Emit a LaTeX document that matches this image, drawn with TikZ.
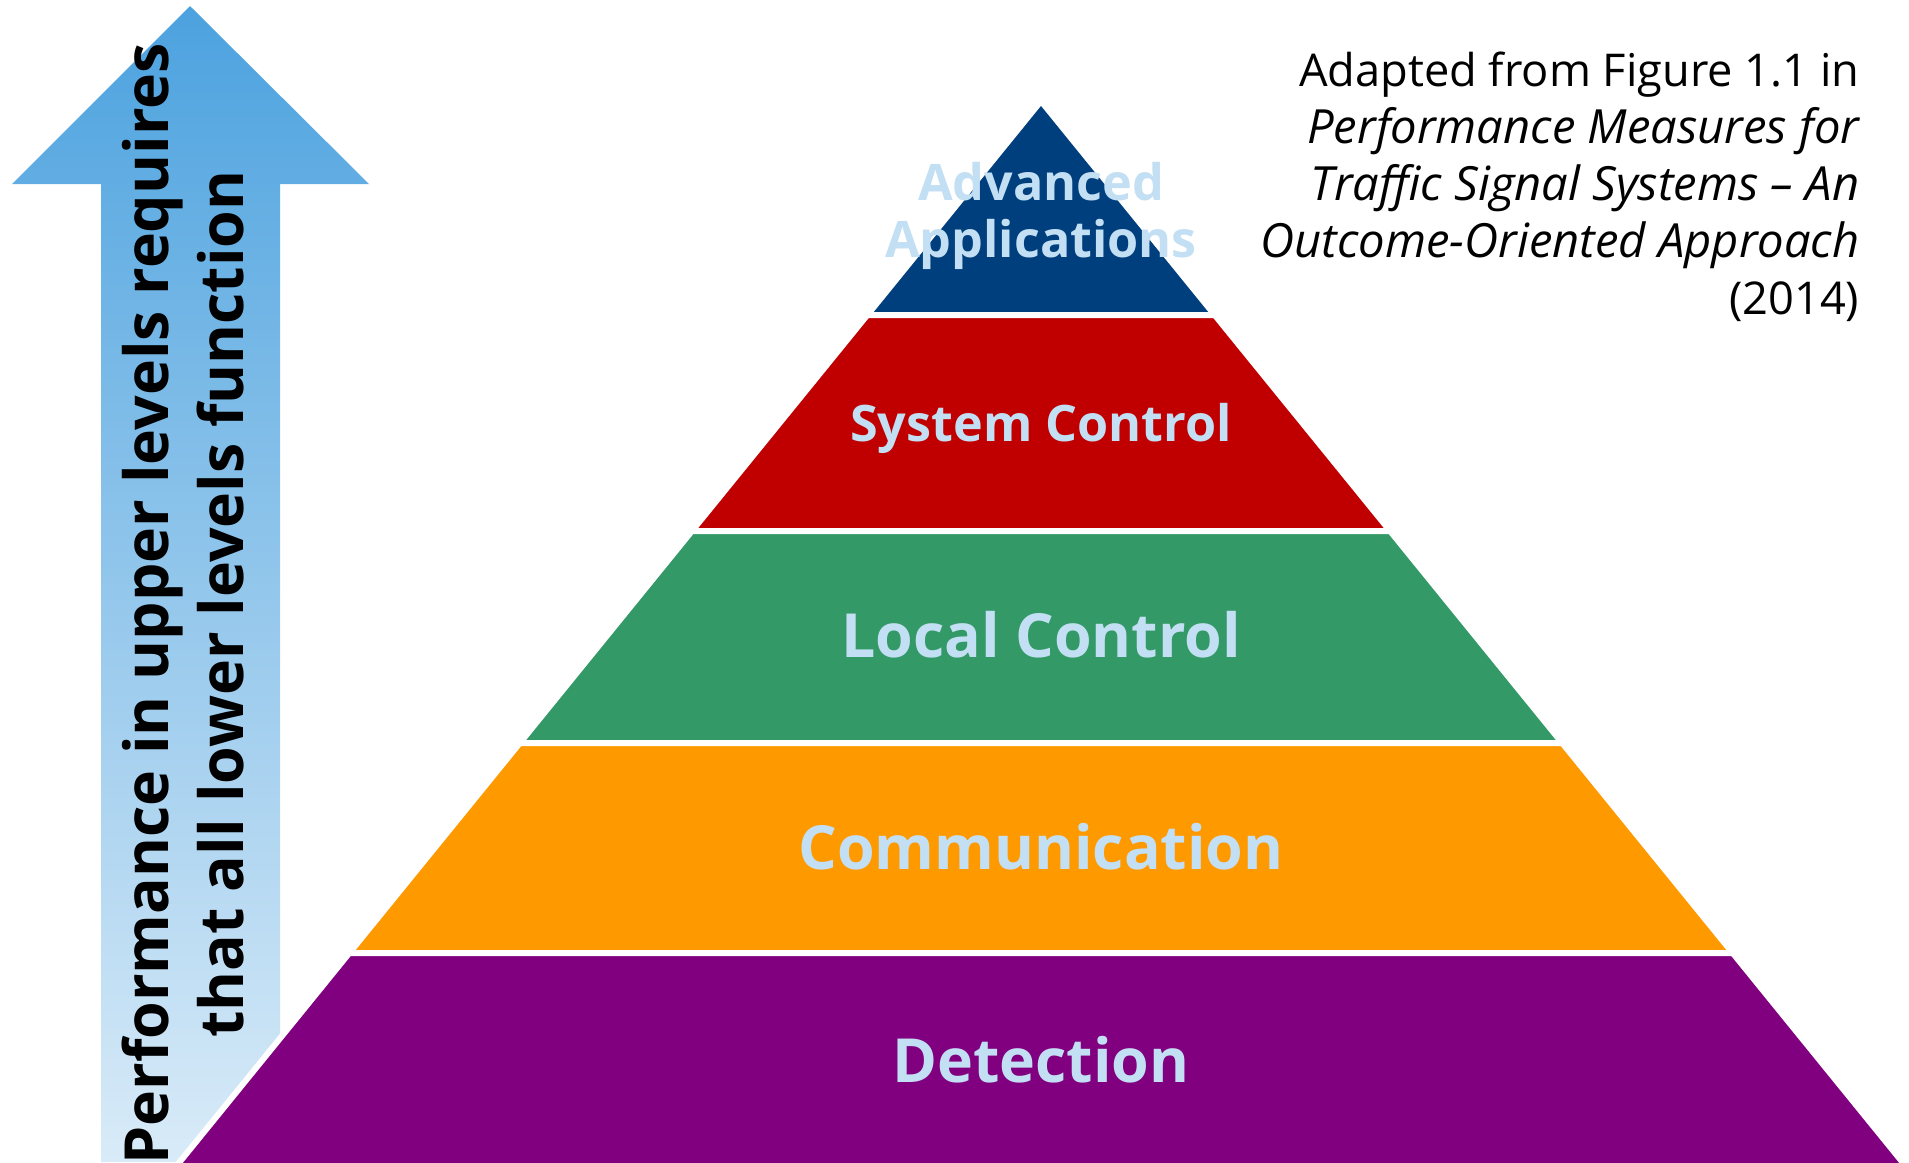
\documentclass[tikz,border=0pt]{standalone}
\usepackage{fontspec}
\setmainfont{Open Sans}
\definecolor{arrowtop}{HTML}{4CA2DF}
\definecolor{arrowbot}{HTML}{D9EBF8}
\definecolor{bandblue}{HTML}{003F7D}
\definecolor{bandred}{HTML}{C00000}
\definecolor{bandgreen}{HTML}{339966}
\definecolor{bandorange}{HTML}{FF9900}
\definecolor{bandpurple}{HTML}{800080}
\definecolor{lblblue}{HTML}{C3DFF3}
\newcommand{\citeit}[1]{{\fontsize{13.4}{16.2}\selectfont\itshape #1}}
\begin{document}
\begin{tikzpicture}[x=0.01cm,y=-0.01cm,
  band/.style={draw=white,line width=1.7pt,line join=miter},
  lbl/.style={text=lblblue,inner sep=0pt,font=\bfseries\fontsize{17.3}{20}\selectfont},
  lblsmall/.style={lbl,font=\bfseries\fontsize{14.3}{16.4}\selectfont}]
\useasboundingbox (0,0) rectangle (1909,1162);

\shade[top color=arrowtop,bottom color=arrowbot] (190,6) -- (369,184) -- (280,184) -- (280,1162) -- (101,1162) -- (101,184) -- (12,184) -- cycle;

\draw[band,fill=bandblue] (1041,101) -- (1041+173.7,315) -- (1041-173.7,315) -- cycle;
\foreach \ya/\wa/\yb/\wb/\col in {315/173.7/531/349.1/bandred,531/349.1/743/521.2/bandgreen,743/521.2/953/691.7/bandorange,953/691.7/1175/871.9/bandpurple}
  \draw[band,fill=\col] (1041-\wa,\ya) -- (1041+\wa,\ya) -- (1041+\wb,\yb) -- (1041-\wb,\yb) -- cycle;

\node[lblsmall,align=center] (advapp) at (1041,216) {Advanced\\Applications};
\node[lblsmall,anchor=base] (sysctl) at (1041,441) {System Control};
\node[lbl,anchor=base] (locctl) at (1041,657) {Local Control};
\node[lbl,anchor=base] (comm) at (1041,869) {Communication};
\node[lbl,anchor=base] (detect) at (1041,1082) {Detection};

\node[rotate=90,align=center,inner sep=0pt,font=\bfseries\fontsize{17.3}{21.6}\selectfont] (uptext) at (183,604) {Performance in upper levels requires\\that all lower levels function};

\node[anchor=north east,align=right,inner sep=0pt,font=\fontsize{12.85}{16.2}\selectfont] (credit) at (1860,51) {Adapted from Figure 1.1 in\\\citeit{Performance Measures for}\\\citeit{Traffic Signal Systems – An}\\\citeit{Outcome-Oriented Approach}\\(2014)};
\end{tikzpicture}
\end{document}
